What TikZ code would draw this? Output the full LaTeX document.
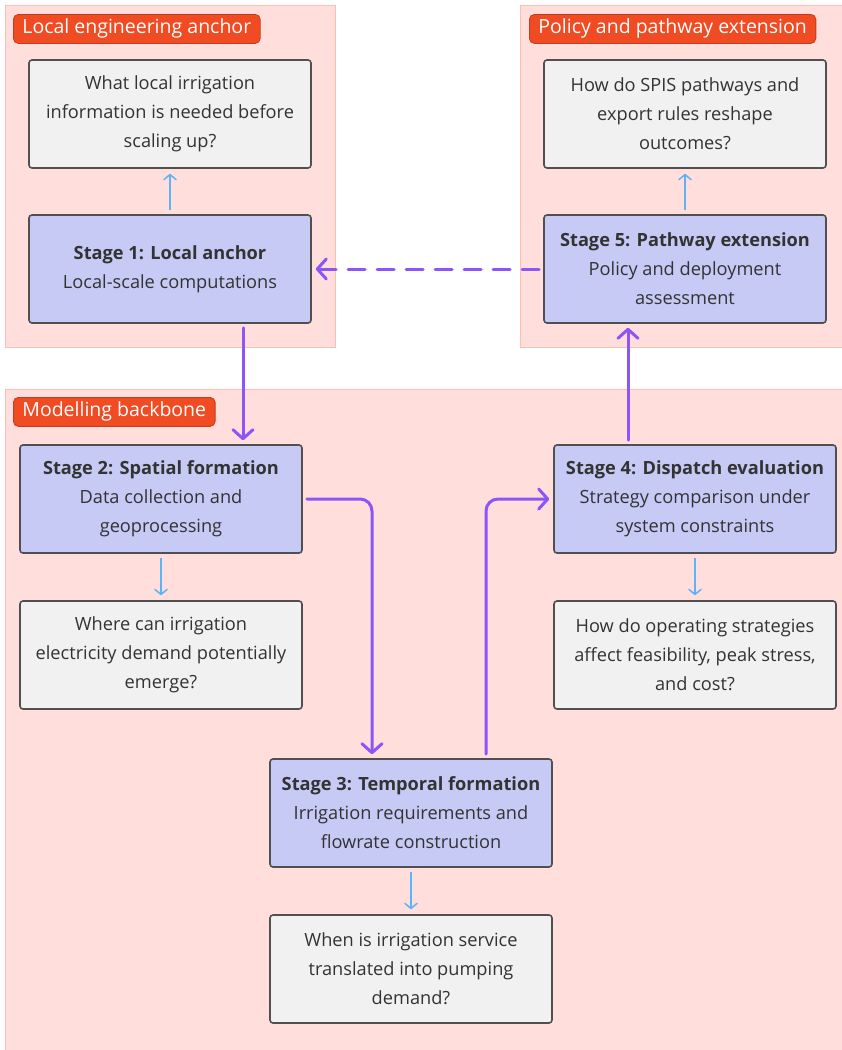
\documentclass[tikz,border=0pt]{standalone}
\usepackage{fontspec}
\setmainfont{Open Sans}
\usetikzlibrary{positioning,arrows.meta}
\definecolor{zonefill}{HTML}{FFDEDC}
\definecolor{zoneline}{HTML}{FFBDB4}
\definecolor{tagfill}{HTML}{F04B23}
\definecolor{tagline}{HTML}{C43C1C}
\definecolor{stagefill}{HTML}{C6CAF4}
\definecolor{askfill}{HTML}{F1F1F1}
\definecolor{boxline}{HTML}{505050}
\definecolor{inktext}{HTML}{333333}
\definecolor{flowc}{HTML}{8B55F8}
\definecolor{probec}{HTML}{5AB4F7}
\tikzset{
  zone/.style = {draw=zoneline, fill=zonefill, line width=0.8pt},
  tag/.style = {draw=tagline, fill=tagfill, text=white, rounded corners=5pt, line width=0.8pt,
    anchor=north west, inner xsep=9pt, minimum height=29pt, font=\fontsize{19.5}{20}\selectfont},
  stagebox/.style = {draw=boxline, fill=stagefill, rounded corners=3pt, line width=1.6pt,
    minimum width=282pt, minimum height=108pt, align=center, text=inktext,
    font=\fontsize{18.2}{29}\selectfont, execute at begin node={\rule{0pt}{19pt}}},
  askbox/.style = {stagebox, fill=askfill},
  flow/.style = {draw=flowc, line width=3pt, line cap=round, rounded corners=12pt,
    -{Straight Barb[length=9pt, width=20pt, line width=3pt, round]}},
  probe/.style = {draw=probec, line width=1.5pt,
    -{Straight Barb[length=5pt, width=12pt, line width=1.5pt, round]}}
}
\begin{document}
\begin{tikzpicture}[x=1pt, y=-1pt, node distance=155pt]

\useasboundingbox (0,0) rectangle (842,1050);

% background zones
\draw [zone] (5,5) rectangle (335,347);
\draw [zone] (520,5) rectangle (848,347);
\draw [zone] (5,389) rectangle (848,1056);

\node [tag] (tagLocal) at (13,14) {Local engineering anchor};
\node [tag] (tagPolicy) at (529,14) {Policy and pathway extension};
\node [tag] (tagModel) at (13,397) {Modelling backbone};

% stages
\node [stagebox] (stage1) at (170,269) {\textbf{Stage 1: Local anchor}\\Local-scale computations};
\node [stagebox] (stage5) at (685,269) {\textbf{Stage 5: Pathway extension}\\Policy and deployment\\assessment};
\node [stagebox] (stage2) at (161,499) {\textbf{Stage 2: Spatial formation}\\Data collection and\\geoprocessing};
\node [stagebox] (stage4) at (695,499) {\textbf{Stage 4: Dispatch evaluation}\\Strategy comparison under\\system constraints};
\node [stagebox] (stage3) at (411,813) {\textbf{Stage 3: Temporal formation}\\Irrigation requirements and\\flowrate construction};

% questions
\node [askbox, above of=stage1] (ask1) {What local irrigation\\information is needed before\\scaling up?};
\node [askbox, above of=stage5] (ask5) {How do SPIS pathways and\\export rules reshape\\outcomes?};
\node [askbox, below of=stage2, node distance=156pt] (ask2) {Where can irrigation\\electricity demand potentially\\emerge?};
\node [askbox, below of=stage4, node distance=156pt] (ask4) {How do operating strategies\\affect feasibility, peak stress,\\and cost?};
\node [askbox, below of=stage3, node distance=156pt] (ask3) {When is irrigation service\\translated into pumping\\demand?};

\coordinate (s1out) at ([xshift=73pt]stage1.south);
\coordinate (s3in) at ([xshift=-39pt]stage3.north);
\coordinate (s3out) at ([xshift=75pt]stage3.north);
\coordinate (s4out) at ([xshift=-67pt]stage4.north);

% main flow
\draw [flow, shorten <=4pt, shorten >=4pt] (s1out) -- (s1out |- stage2.north);
\draw [flow, shorten <=4pt, shorten >=4pt] (stage2.east) -| (s3in);
\draw [flow, shorten <=4pt, shorten >=4pt] (s3out) |- (stage4.west);
\draw [flow, shorten <=4pt, shorten >=4pt] (s4out) -- (s4out |- stage5.south);
\draw [flow, dash pattern=on 17pt off 12pt, shorten <=4pt, shorten >=4pt] (stage5.west) -- (stage1.east);

% question links
\draw [probe, shorten <=4pt, shorten >=5pt] (stage1) -- (ask1);
\draw [probe, shorten <=4pt, shorten >=5pt] (stage5) -- (ask5);
\draw [probe, shorten <=4pt, shorten >=5pt] (stage2) -- (ask2);
\draw [probe, shorten <=4pt, shorten >=5pt] (stage4) -- (ask4);
\draw [probe, shorten <=4pt, shorten >=5pt] (stage3) -- (ask3);

\end{tikzpicture}
\end{document}
